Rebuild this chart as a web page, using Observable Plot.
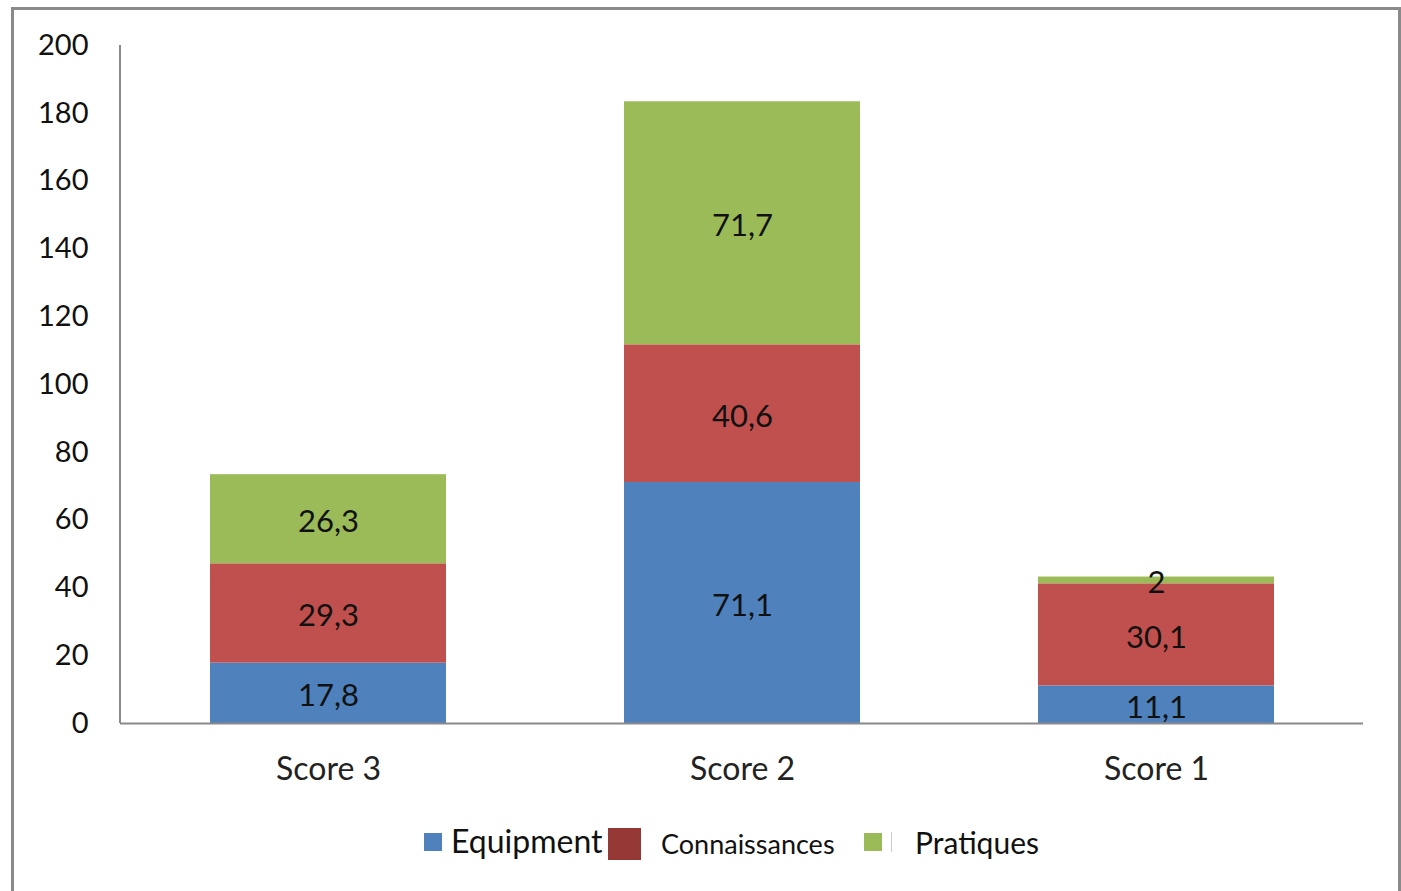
<!DOCTYPE html>
<html>
<head>
<meta charset="utf-8">
<script src="https://cdn.jsdelivr.net/npm/d3@7"></script>
<script src="https://cdn.jsdelivr.net/npm/@observablehq/plot@0.6"></script>
<style>
  html, body { margin: 0; padding: 0; background: #fff; overflow: hidden; }
  #page { position: relative; width: 1401px; height: 891px; font-family: Lato, "Open Sans", sans-serif; }
  #frame { position: absolute; left: 11px; top: 7px; width: 1390px; height: 900px; border: 3px solid #8a8a8a; box-sizing: border-box; }
  #chart { position: absolute; left: 0; top: 0; }
  .lg { position: absolute; }
  .lgtext { position: absolute; color: #111; white-space: nowrap; line-height: 1; }
</style>
</head>
<body>
<div id="page">
  <div id="frame"></div>
  <div id="chart"></div>
  <div id="legend"></div>
</div>
<script>
const scores = ["Score 3", "Score 2", "Score 1"];
const series = ["Equipment", "Connaissances", "Pratiques"];
const equipment = [17.8, 71.1, 11.1];
const connaissances = [29.3, 40.6, 30.1];
const pratiques = [26.3, 71.7, 2];
const colors = ["#4F81BD", "#C0504D", "#9BBB59"];
const legendColors = ["#4F81BD", "#963836", "#9BBB59"];
const yTicks = [0, 20, 40, 60, 80, 100, 120, 140, 160, 180, 200];

const valuesBySeries = [equipment, connaissances, pratiques];
const rows = [];
scores.forEach((s, i) => {
  series.forEach((name, j) => {
    rows.push({score: s, series: name, value: valuesBySeries[j][i]});
  });
});
const fmt = v => String(v).replace(".", ",");

const plot = Plot.plot({
  width: 1401,
  height: 800,
  marginLeft: 120,
  marginRight: 38,
  marginTop: 45,
  marginBottom: 77,
  style: {fontFamily: "Lato, 'Open Sans', sans-serif", fontSize: "29px", color: "#111", background: "transparent"},
  x: {domain: scores, paddingInner: 0.43, paddingOuter: 0.215, label: null},
  y: {domain: [0, 200], label: null},
  color: {domain: series, range: colors},
  marks: [
    Plot.barY(rows, Plot.stackY({x: "score", y: "value", fill: "series"})),
    Plot.text(rows, Plot.stackY({x: "score", y: "value", text: d => fmt(d.value), fill: "#111", fontSize: 31, dy: 3})),
    Plot.ruleY([0], {stroke: "#8a8a8a", strokeWidth: 2}),
    Plot.axisY({ticks: yTicks, tickSize: 0, tickPadding: 32, tickFormat: d => String(d), fontSize: 29, fill: "#111"}),
    Plot.axisX({tickSize: 0, tickPadding: 34, fontSize: 32, fill: "#222"})
  ]
});

// y axis line using the plot's own y scale
const ys = plot.scale("y");
d3.select(plot).append("line")
  .attr("x1", 120).attr("x2", 120)
  .attr("y1", ys.apply(0)).attr("y2", ys.apply(200))
  .attr("stroke", "#8a8a8a").attr("stroke-width", 2);

document.getElementById("chart").appendChild(plot);

// legend
const legend = document.getElementById("legend");
const swatches = [
  {left: 424, top: 833, w: 18, h: 18},
  {left: 608, top: 828, w: 33, h: 32},
  {left: 864, top: 833, w: 18, h: 18}
];
const texts = [
  {left: 451, top: 825, size: 32},
  {left: 661, top: 830, size: 27},
  {left: 915, top: 827, size: 30}
];
series.forEach((name, i) => {
  const sw = document.createElement("div");
  sw.className = "lg";
  Object.assign(sw.style, {left: swatches[i].left + "px", top: swatches[i].top + "px", width: swatches[i].w + "px", height: swatches[i].h + "px", background: legendColors[i]});
  legend.appendChild(sw);
  const t = document.createElement("div");
  t.className = "lgtext";
  t.textContent = name;
  Object.assign(t.style, {left: texts[i].left + "px", top: texts[i].top + "px", fontSize: texts[i].size + "px"});
  legend.appendChild(t);
});
const tick = document.createElement("div");
tick.className = "lg";
Object.assign(tick.style, {left: "891px", top: "832px", width: "1px", height: "20px", background: "#ccc"});
legend.appendChild(tick);
</script>
</body>
</html>
